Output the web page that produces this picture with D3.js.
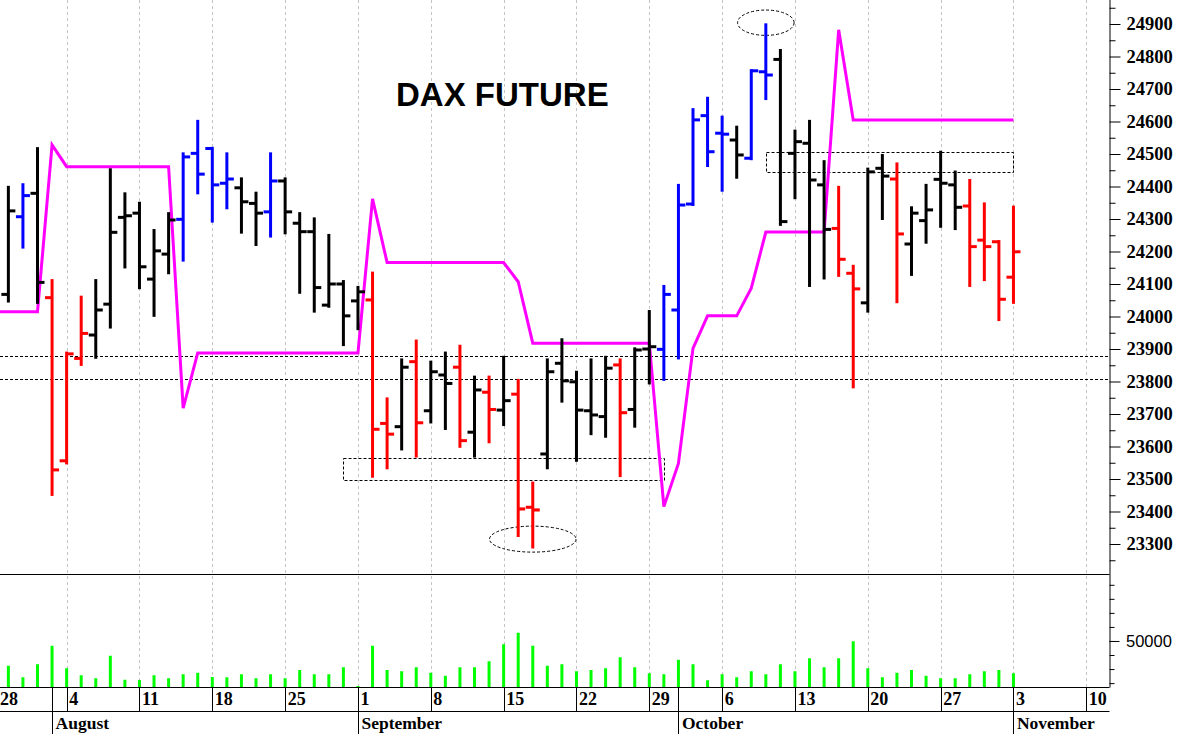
<!DOCTYPE html>
<html><head><meta charset="utf-8">
<script src="https://cdn.jsdelivr.net/npm/d3@7"></script>
<style>
html,body{margin:0;padding:0;background:#fff;}
svg{display:block;}
</style></head><body>
<svg id="c" width="1180" height="734"></svg>
<script>
// ---------- DATA ----------
const axisDays = [
"2025-07-28","2025-07-29","2025-07-30","2025-07-31","2025-08-01",
"2025-08-04","2025-08-05","2025-08-06","2025-08-07","2025-08-08",
"2025-08-11","2025-08-12","2025-08-13","2025-08-14","2025-08-15",
"2025-08-18","2025-08-19","2025-08-20","2025-08-21","2025-08-22",
"2025-08-25","2025-08-26","2025-08-27","2025-08-28","2025-08-29",
"2025-09-01","2025-09-02","2025-09-03","2025-09-04","2025-09-05",
"2025-09-08","2025-09-09","2025-09-10","2025-09-11","2025-09-12",
"2025-09-15","2025-09-16","2025-09-17","2025-09-18","2025-09-19",
"2025-09-22","2025-09-23","2025-09-24","2025-09-25","2025-09-26",
"2025-09-29","2025-09-30","2025-10-01","2025-10-02","2025-10-03",
"2025-10-06","2025-10-07","2025-10-08","2025-10-09","2025-10-10",
"2025-10-13","2025-10-14","2025-10-15","2025-10-16","2025-10-17",
"2025-10-20","2025-10-21","2025-10-22","2025-10-23","2025-10-24",
"2025-10-27","2025-10-28","2025-10-29","2025-10-30","2025-10-31",
"2025-11-03","2025-11-04","2025-11-05","2025-11-06","2025-11-07",
"2025-11-10"];
const monthNames = ["January","February","March","April","May","June","July","August","September","October","November","December"];

// bars: 2025-07-29 .. 2025-11-03
const barDates = axisDays.slice(1, 71);
const open = [24068,24307,24379,24058,
 23556,23871,23943,24038,24305,
 24318,24115,24192,24299,24502,
 24517,24410,24396,24348,24322,
 24417,24287,24261,24035,24100,
 24048,24051,23671,23661,23861,
 23710,23820,23844,23644,23767,
 23712,23761,23413,23577,23856,
 23799,23710,23692,23851,23714,
 23900,23899,24020,24346,24618,
 24564,24543,24487,24753,24791,
 24502,24533,24405,24271,24133,
 24042,24456,24423,24223,24295,
 24422,24405,24340,24235,24230,
 24121];
const high = [24399,24407,24518,24112,
 23889,24061,24112,24453,24379,
 24350,24266,24318,24502,24602,
 24519,24502,24425,24381,24502,
 24425,24318,24302,24251,24109,
 24091,24135,23748,23868,23926,
 23861,23889,23910,23815,23815,
 23876,23805,23489,23868,23930,
 23830,23868,23876,23868,23902,
 24017,24094,24405,24638,24673,
 24615,24584,24758,24899,24820,
 24572,24602,24478,24399,24156,
 24455,24497,24471,24336,24405,
 24507,24446,24420,24348,24232,
 24338];
const low = [24046,24212,24042,23451,
 23548,23851,23873,23966,24151,
 24087,24002,24133,24172,24379,
 24292,24333,24258,24220,24246,
 24256,24073,24015,24030,23912,
 23961,23507,23533,23591,23569,
 23674,23654,23599,23569,23613,
 23666,23325,23289,23533,23738,
 23556,23638,23630,23509,23661,
 23794,23805,23871,24343,24463,
 24387,24427,24484,24669,24282,
 24364,24094,24117,24125,23782,
 24015,24300,24044,24128,24227,
 24276,24269,24094,24112,23989,
 24042];
const close = [24325,24372,24105,23528,
 23885,23948,24020,24259,24310,
 24153,24202,24297,24491,24438,
 24405,24423,24353,24318,24417,
 24322,24261,24089,24100,24002,
 24076,23653,23638,23844,23673,
 23830,23794,23618,23774,23714,
 23741,23408,23405,23830,23802,
 23712,23697,23841,23704,23897,
 23907,24068,24343,24605,24507,
 24561,24497,24756,24743,24292,
 24538,24420,24268,24176,24085,
 24445,24432,24254,24318,24328,
 24410,24336,24215,24215,24053,
 24199];
// bar signal: u = up (blue), d = down (red), n = neutral (black)
const signal = ["n","u","n","d",
 "d","d","n","n","n",
 "n","n","n","u","u",
 "u","u","n","n","u",
 "n","n","n","n","n",
 "n","d","d","n","d",
 "n","n","d","n","d",
 "n","d","d","n","n",
 "n","n","n","d","n",
 "n","u","u","u","u",
 "u","n","u","u","n",
 "n","n","n","d","d",
 "n","n","d","n","n",
 "n","n","d","d","d",
 "d"];
const volume = [32400,24150,33400,46650,
 30550,25570,23430,39530,22440,
 22220,25570,23430,26280,27420,
 24360,24150,26280,23430,26280,
 23430,29340,26280,26280,31270,
 17950,46650,29340,28420,31270,
 27420,25290,31270,31270,35540,
 47650,55910,46650,32400,33400,
 28420,29340,30550,38390,31270,
 26990,26280,36680,33400,22010,
 26280,24150,28420,26280,33400,
 28420,37680,31270,37680,49790,
 30550,24150,27420,29340,25290,
 23430,23430,26280,28420,29340,
 26990];
// magenta stop line: 2025-07-28 .. 2025-11-03
const stopDates = axisDays.slice(0, 71);
const stopLine = [24015,24015,24015,24015,24528,
 24461,24461,24461,24461,24461,
 24461,24461,24461,23718,23888,
 23888,23888,23888,23888,23888,
 23888,23888,23888,23888,23888,
 23888,24362,24166,24166,24166,
 24166,24166,24166,24166,24166,
 24166,24107,23918,23918,23918,
 23918,23918,23918,23918,23918,
 23918,23415,23548,23902,24002,
 24002,24002,24087,24260,24260,
 24260,24260,24260,24882,24605,
 24605,24605,24605,24605,24605,
 24605,24605,24605,24605,24605,
 24605];
const levels = [23807, 23878];
const boxFrom = ["2025-08-29","2025-10-09"];
const boxTo = ["2025-09-30","2025-11-03"];
const boxTop = [23564, 24507];
const boxBottom = [23497, 24446];
const ellCenter = ["2025-10-09","2025-09-17"];
const ellPrice = [24904, 23315];
const ellRxDays = [1.94, 2.97];
const ellRyPts = [39, 40];
const priceMajorTicks = d3.range(23300, 24901, 100);
const priceMinorTicks = d3.range(23250, 24951, 100);
const volTicks = [20000,30000,40000,50000,60000,70000,80000,90000];
const volLabels = [50000];
const title = "DAX FUTURE";

// ---------- LAYOUT ----------
const axisX = 1109.5;
const priceBottom = 574.5, volBottom = 687.5, dateBottom = 711.5, H = 734;
const colorOf = {u:"#0000ff", d:"#ff0000", n:"#000000"};

const svg = d3.select("#c");
const x = d3.scalePoint().domain(axisDays).range([-6.2, 1086.3]);
const y = d3.scaleLinear().domain([23300, 24900]).range([544, 24]);
const yv = d3.scaleLinear().domain([20000, 90000]).range([683.1, 584.8]);
const px = d => Math.round(x(d)) + 0.5;

const defs = svg.append("defs");
defs.append("clipPath").attr("id","cp").append("rect").attr("x",0).attr("y",0).attr("width",axisX).attr("height",priceBottom);
defs.append("clipPath").attr("id","cv").append("rect").attr("x",0).attr("y",priceBottom).attr("width",axisX).attr("height",volBottom-priceBottom);

// week grid
const mondays = axisDays.filter(d => new Date(d+"T00:00:00Z").getUTCDay() === 1);
svg.append("g").selectAll("line").data(mondays).join("line")
  .attr("x1", px).attr("x2", px).attr("y1", 0).attr("y2", volBottom)
  .attr("stroke", "#c4c4c4").attr("stroke-width", 1).attr("stroke-dasharray", "3,3");

// title
svg.append("text").attr("x", 396).attr("y", 106).text(title)
  .attr("font-family", "'Liberation Sans', Arial, sans-serif").attr("font-weight", "bold")
  .attr("font-size", 33).attr("fill", "#000");

const gp = svg.append("g").attr("clip-path", "url(#cp)");

// horizontal levels
gp.selectAll("line.lvl").data(levels).join("line").attr("class","lvl")
  .attr("x1", 0).attr("x2", axisX)
  .attr("y1", v => Math.round(y(v)) + 0.5).attr("y2", v => Math.round(y(v)) + 0.5)
  .attr("stroke", "#000").attr("stroke-width", 1).attr("stroke-dasharray", "3,2");

// boxes
gp.selectAll("rect.box").data(boxFrom.map((f,i)=>i)).join("rect").attr("class","box")
  .attr("x", i => px(boxFrom[i])).attr("y", i => Math.round(y(boxTop[i])) + 0.5)
  .attr("width", i => px(boxTo[i]) - px(boxFrom[i]))
  .attr("height", i => Math.round(y(boxBottom[i])) - Math.round(y(boxTop[i])))
  .attr("fill", "none").attr("stroke", "#000").attr("stroke-width", 1).attr("stroke-dasharray", "3,2");

// ellipses
gp.selectAll("ellipse").data(ellCenter.map((c,i)=>i)).join("ellipse")
  .attr("cx", i => x(ellCenter[i])).attr("cy", i => y(ellPrice[i]))
  .attr("rx", i => ellRxDays[i] * x.step()).attr("ry", i => y(ellPrice[i] - ellRyPts[i]) - y(ellPrice[i]))
  .attr("fill", "none").attr("stroke", "#000").attr("stroke-width", 1).attr("stroke-dasharray", "3,2");

// magenta line
gp.append("path").datum(stopDates.map((d,i)=>[d, stopLine[i]]))
  .attr("d", d3.line().x(d => x(d[0])).y(d => y(d[1])))
  .attr("fill", "none").attr("stroke", "#ff00ff").attr("stroke-width", 3).attr("stroke-linejoin", "miter");

// OHLC bars
const bars = barDates.map((d,i) => ({d, o:open[i], h:high[i], l:low[i], c:close[i], s:signal[i]}));
const bg = gp.append("g").selectAll("g").data(bars).join("g")
  .attr("stroke", b => colorOf[b.s]).attr("stroke-width", 3);
bg.append("line").attr("x1", b => x(b.d)).attr("x2", b => x(b.d))
  .attr("y1", b => y(b.h) - 1).attr("y2", b => y(b.l) + 1);
bg.append("line").attr("x1", b => x(b.d) - 7).attr("x2", b => x(b.d))
  .attr("y1", b => y(b.o)).attr("y2", b => y(b.o));
bg.append("line").attr("x1", b => x(b.d)).attr("x2", b => x(b.d) + 7)
  .attr("y1", b => y(b.c)).attr("y2", b => y(b.c));

// volume bars
svg.append("g").attr("clip-path", "url(#cv)").selectAll("line").data(barDates.map((d,i)=>[d, volume[i]])).join("line")
  .attr("x1", d => x(d[0])).attr("x2", d => x(d[0]))
  .attr("y1", volBottom).attr("y2", d => yv(d[1]))
  .attr("stroke", "#00ff00").attr("stroke-width", 3);

// frame lines
const frame = svg.append("g").attr("stroke", "#000").attr("stroke-width", 1);
frame.append("line").attr("x1", 0).attr("x2", axisX).attr("y1", priceBottom).attr("y2", priceBottom);
frame.append("line").attr("x1", 0).attr("x2", axisX).attr("y1", volBottom).attr("y2", volBottom);
frame.append("line").attr("x1", 0).attr("x2", axisX).attr("y1", dateBottom).attr("y2", dateBottom);

// price axis
const serif = "'Liberation Serif', 'Times New Roman', serif";
const pa = svg.append("g").attr("transform", `translate(${axisX},0)`)
  .call(d3.axisRight(y).tickValues(priceMajorTicks).tickSize(11).tickPadding(6).tickFormat(d3.format("d")));
pa.select(".domain").attr("d", `M0.5,0V${volBottom}`).attr("stroke", "#000");
pa.selectAll("text").attr("font-family", serif).attr("font-weight", "bold").attr("font-size", 18.5).attr("fill", "#000");
pa.selectAll("line").attr("stroke", "#000");
const pm = svg.append("g").attr("transform", `translate(${axisX},0)`)
  .call(d3.axisRight(y).tickValues(priceMinorTicks).tickSize(6).tickFormat(""));
pm.select(".domain").remove();
pm.selectAll("line").attr("stroke", "#000");

// volume axis
const va = svg.append("g").attr("transform", `translate(${axisX},0)`)
  .call(d3.axisRight(yv).tickValues(volTicks).tickSize(5).tickFormat(""));
va.select(".domain").remove();
va.selectAll("line").attr("stroke", "#000");
const vl = svg.append("g").attr("transform", `translate(${axisX},0)`)
  .call(d3.axisRight(yv).tickValues(volLabels).tickSize(10).tickPadding(6.5).tickFormat(d3.format("d")));
vl.select(".domain").remove();
vl.selectAll("line").attr("stroke", "#000");
vl.selectAll("text").attr("font-family", "'Liberation Sans', Arial, sans-serif").attr("font-size", 16.5).attr("fill", "#000");

// date row
const dg = svg.append("g");
dg.selectAll("line").data(mondays).join("line")
  .attr("x1", px).attr("x2", px).attr("y1", volBottom).attr("y2", dateBottom)
  .attr("stroke", "#000");
dg.selectAll("text").data(mondays).join("text")
  .attr("x", d => Math.max(0, x(d) + 2.5)).attr("y", 705)
  .text(d => +d.slice(8, 10))
  .attr("font-family", serif).attr("font-weight", "bold").attr("font-size", 18).attr("fill", "#000");

// month row
const monthStarts = axisDays.filter((d,i) => i > 0 && d.slice(5,7) !== axisDays[i-1].slice(5,7));
const mg = svg.append("g");
mg.selectAll("line").data(monthStarts).join("line")
  .attr("x1", px).attr("x2", px).attr("y1", volBottom).attr("y2", H)
  .attr("stroke", "#000");
mg.selectAll("text").data(monthStarts).join("text")
  .attr("x", d => x(d) + 3.5).attr("y", 729)
  .text(d => monthNames[+d.slice(5,7) - 1])
  .attr("font-family", serif).attr("font-weight", "bold").attr("font-size", 17.5).attr("fill", "#000");
</script>
</body></html>
